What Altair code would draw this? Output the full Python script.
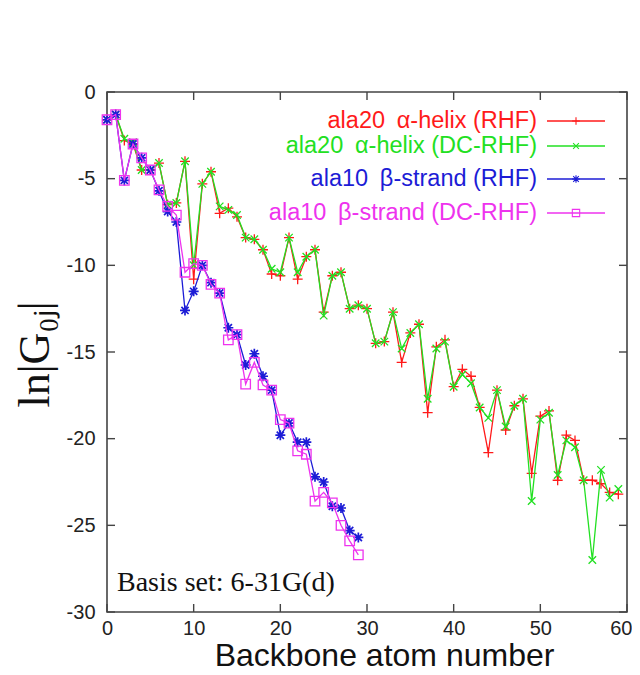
import altair as alt
import pandas as pd

# ---- data ----
atoms_alpha = list(range(0, 60))
atoms_beta = list(range(0, 30))

alpha_rhf = [-1.6, -1.3, -2.8, -3.0, -4.5, -4.5, -4.1, -6.5, -6.4, -4.0,
             -10.8, -5.3, -4.6, -7.0, -6.7, -7.2, -8.4, -8.5, -9.1, -10.5,
             -10.6, -8.4, -10.8, -9.5, -9.1, -12.7, -10.6, -10.4, -12.5, -12.3,
             -12.5, -14.5, -14.4, -12.7, -15.6, -13.9, -13.4, -18.5, -14.7, -14.3,
             -17.0, -16.0, -16.4, -18.2, -20.8, -17.2, -19.5, -18.1, -17.7, -22.0,
             -18.7, -18.4, -22.4, -19.8, -20.1, -22.4, -22.4, -22.6, -23.1, -23.2]
alpha_dc = [-1.6, -1.3, -2.7, -2.9, -4.5, -4.5, -4.1, -6.5, -6.4, -4.0,
            -10.0, -5.3, -4.6, -6.6, -6.8, -7.1, -8.4, -8.5, -9.1, -10.2,
            -10.4, -8.4, -10.4, -9.5, -9.1, -12.9, -10.6, -10.4, -12.5, -12.3,
            -12.5, -14.5, -14.4, -12.7, -14.8, -13.9, -13.4, -17.7, -14.8, -14.4,
            -17.0, -16.3, -16.8, -18.2, -18.8, -17.2, -19.3, -18.1, -17.7, -23.6,
            -18.9, -18.5, -22.1, -20.1, -20.5, -22.4, -27.0, -21.8, -23.4, -22.9]
beta_rhf = [-1.6, -1.3, -5.1, -3.0, -3.8, -4.5, -5.7, -6.9, -7.5, -12.6,
            -11.5, -10.0, -11.0, -11.6, -13.6, -14.0, -15.75, -15.1, -16.4, -17.2,
            -19.8, -19.1, -20.2, -20.2, -22.2, -22.5, -23.9, -24.0, -25.3, -25.7]
beta_dc = [-1.6, -1.3, -5.1, -3.0, -3.8, -4.5, -5.65, -6.6, -7.1, -10.4,
           -9.9, -10.0, -11.1, -11.6, -14.3, -14.0, -16.85, -15.6, -16.9, -17.2,
           -18.9, -19.1, -20.7, -20.9, -23.6, -23.1, -23.7, -25.0, -25.9, -26.7]

series_labels = ["ala20\u2002\u03b1-helix (RHF)", "ala20\u2002\u03b1-helix (DC-RHF)",
                 "ala10\u2002\u03b2-strand (RHF)", "ala10\u2002\u03b2-strand (DC-RHF)"]
series_colors = ["#ff1a1a", "#22e022", "#1c1cd6", "#ee33ee"]

x_ticks = [0, 10, 20, 30, 40, 50, 60]
y_ticks = [-30, -25, -20, -15, -10, -5, 0]

PLUS = "M-1,0L1,0M0,-1L0,1"
XMARK = "M-0.75,-0.75L0.75,0.75M-0.75,0.75L0.75,-0.75"
STAR = "M-1,0L1,0M0,-1L0,1M-0.72,-0.72L0.72,0.72M-0.72,0.72L0.72,-0.72"
shapes = [PLUS, XMARK, STAR, "square"]
sizes = [100, 100, 100, 90]
stroke_ws = [1.3, 1.3, 1.7, 1.3]

series_data = [(atoms_alpha, alpha_rhf), (atoms_alpha, alpha_dc),
               (atoms_beta, beta_rhf), (atoms_beta, beta_dc)]

W, H = 520, 520
FRAME = "#444444"

X = alt.X("x:Q", scale=alt.Scale(domain=[0, 60], nice=False, zero=False),
          axis=alt.Axis(values=x_ticks, title="Backbone atom number", grid=False,
                        ticks=False, domain=False, labelFont="Liberation Sans",
                        labelFontSize=20, labelColor="#222222", labelPadding=6,
                        labelFlush=False,
                        labelAlign={"condition": {"test": "datum.value == 60", "value": "right"},
                                    "value": "center"},
                        labelOffset={"condition": {"test": "datum.value == 60", "value": 5},
                                     "value": 0},
                        titleFont="Liberation Sans", titleFontSize=32,
                        titleFontWeight="normal", titleColor="#111111",
                        titleX=277, titleY=53, titleBaseline="alphabetic",
                        titleAlign="center"))
Y = alt.Y("y:Q", scale=alt.Scale(domain=[-30, 0], nice=False, zero=False),
          axis=alt.Axis(values=y_ticks, title="ln|G\u2080\u2c7c|", grid=False,
                        ticks=False, domain=False, labelFont="Liberation Sans",
                        labelFontSize=20, labelColor="#222222", labelPadding=12,
                        labelFlush=False, labelExpr="'' + datum.value",
                        titleFont="Liberation Serif", titleFontSize=44,
                        titleFontWeight="normal", titleColor="#111111",
                        titleX=-72, titleY=262, titleAngle=270,
                        titleAlign="center", titleBaseline="middle"))

layers = []

# inward tick marks on all four sides
xt = pd.DataFrame({"x": x_ticks})
yt = pd.DataFrame({"y": y_ticks})
tick_style = dict(color=FRAME, strokeWidth=1.4)
layers.append(alt.Chart(xt).mark_rule(**tick_style).encode(x=X, y=alt.value(H), y2=alt.value(H - 8)))
layers.append(alt.Chart(xt).mark_rule(**tick_style).encode(x=X, y=alt.value(0), y2=alt.value(8)))
layers.append(alt.Chart(yt).mark_rule(**tick_style).encode(y=Y, x=alt.value(0), x2=alt.value(8)))
layers.append(alt.Chart(yt).mark_rule(**tick_style).encode(y=Y, x=alt.value(W), x2=alt.value(W - 8)))

for (xs, ys), color, shape, size, sw in zip(series_data, series_colors, shapes, sizes, stroke_ws):
    df = pd.DataFrame({"x": xs, "y": ys})
    base = alt.Chart(df)
    layers.append(base.mark_line(color=color, strokeWidth=1.3).encode(x=X, y=Y))
    layers.append(base.mark_point(shape=shape, filled=False, color=color, size=size,
                                  strokeWidth=sw, opacity=1).encode(x=X, y=Y))

# legend (top right, inside)
legend_rows = [29, 54, 87, 121]
for label, color, shape, size, ry in zip(series_labels, series_colors, shapes, sizes, legend_rows):
    one = alt.Chart(pd.DataFrame({"k": [0]}))
    layers.append(one.mark_text(
        align="right", baseline="middle", font="Liberation Sans", fontSize=23.5, color=color
    ).encode(x=alt.value(430), y=alt.value(ry), text=alt.value(label)))
    layers.append(one.mark_rule(color=color, strokeWidth=1.3).encode(
        x=alt.value(440), x2=alt.value(498), y=alt.value(ry)))
    layers.append(one.mark_point(
        shape=shape, filled=False, color=color, size=size * 0.6, strokeWidth=1.1, opacity=1
    ).encode(x=alt.value(469), y=alt.value(ry)))

# annotation
layers.append(alt.Chart(pd.DataFrame({"k": [0]})).mark_text(
    align="left", baseline="middle", font="Liberation Serif", fontSize=28, color="#111111"
).encode(x=alt.value(10), y=alt.value(491), text=alt.value("Basis set: 6-31G(d)")))

chart = alt.layer(*layers).properties(
    width=W, height=H,
    autosize=alt.AutoSizeParams(type="none"),
    padding={"left": 99, "top": 84, "right": 5, "bottom": 55},
    background="white",
).configure_view(stroke=FRAME, strokeWidth=1.6)

chart.save("out.html", embed_options={"renderer": "svg", "actions": False})
